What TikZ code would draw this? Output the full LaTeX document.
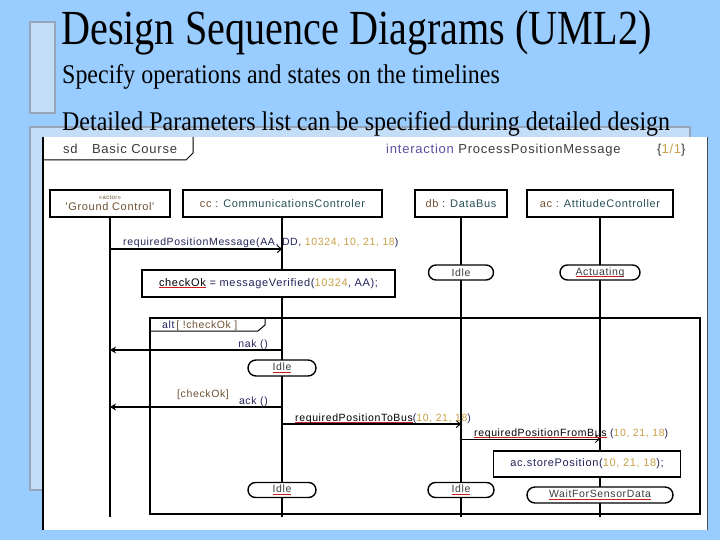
\documentclass[tikz,border=0pt]{standalone}
\usepackage{fontspec}
\setmainfont{Liberation Serif}
\setsansfont{Liberation Sans}
\newfontfamily\diagfont[LetterSpace=6]{Liberation Sans}
\usepackage{graphicx}
\usetikzlibrary{arrows.meta,shapes.misc}
\definecolor{bg}{RGB}{153,204,255}
\definecolor{frm}{RGB}{196,222,247}
\definecolor{frmedge}{RGB}{150,165,185}
\definecolor{opc}{RGB}{35,35,90}
\definecolor{numc}{RGB}{200,160,70}
\definecolor{instc}{RGB}{110,80,50}
\definecolor{clsc}{RGB}{40,80,85}
\definecolor{kwc}{RGB}{90,80,160}
\definecolor{txtc}{RGB}{60,60,60}
\definecolor{ulred}{RGB}{200,30,30}
\newsavebox\ulbox
\newcommand\rul[1]{\sbox\ulbox{#1}\rlap{\textcolor{ulred}{\rule[-2pt]{\wd\ulbox}{0.9pt}}}\usebox\ulbox}
\newcommand\nm[1]{\textcolor{numc}{#1}}
\newcommand\op[1]{\textcolor{opc}{#1}}
\tikzset{
  head/.style={draw, line width=1.5pt, fill=white, minimum height=27pt, inner sep=0pt, align=center, font=\diagfont\fontsize{11}{12}\selectfont},
  life/.style={line width=1.6pt},
  state/.style={rounded rectangle, draw, line width=1.4pt, fill=white, inner sep=0pt, minimum height=15pt, text=txtc},
  action/.style={draw, line width=1.6pt, fill=white, inner sep=0pt, font=\diagfont\fontsize{11}{12}\selectfont},
  msg/.style={line width=1.8pt, -{Straight Barb[length=4pt,width=7pt,line width=1pt]}},
  thinmsg/.style={line width=0.9pt, -{Straight Barb[length=4pt,width=7pt,line width=0.9pt]}},
  reply/.style={line width=1.8pt, -{Stealth[length=6pt,width=7pt]}},
  lbl/.style={inner sep=0pt, anchor=base west},
  lble/.style={inner sep=0pt, anchor=base east},
  hdr/.style={lbl, text=txtc, font=\diagfont\fontsize{13}{14}\selectfont},
}
\begin{document}
\begin{tikzpicture}[x=1pt,y=-1pt, font=\diagfont\fontsize{10.5}{12}\selectfont]
\useasboundingbox (0,0) rectangle (720,540);
\fill[bg] (0,0) rectangle (720,540);
% decorative slide frames
\draw[frmedge, fill=frm, line width=1.2pt] (30,22) rectangle (55,113);
\draw[frmedge, fill=frm, line width=1.2pt] (30,127) rectangle (690,490);
% headings
\node[lbl, font=\rmfamily\fontsize{49}{52}\selectfont] (title) at (61,45) {\scalebox{0.82}[1]{Design Sequence Diagrams (UML2)}};
\node[lbl, font=\rmfamily\fontsize{27}{30}\selectfont] (sub1) at (62,84) {\scalebox{0.887}[1]{Specify operations and states on the timelines}};
\node[lbl, font=\rmfamily\fontsize{27}{30}\selectfont] (sub2) at (62,131) {\scalebox{0.887}[1]{Detailed Parameters list can be specified during detailed design}};
% diagram panel
\fill[white] (43,137) rectangle (707,530);
\draw[line width=1.3pt] (43,137) -- (43,530);
\draw[line width=1pt, black!70] (707,137) -- (707,530);
\draw[line width=1pt] (43,160) -- (186,160) -- (193,153) -- (193,137);
\node[hdr] (sd) at (63,154) {sd\hspace{1.1em}Basic Course};
\node[hdr] (inter) at (386,154) {\textcolor{kwc}{interaction} ProcessPositionMessage};
\node[hdr] (pg) at (657,154) {\{\nm{1/1}\}};
% lifeline heads
\node[head, minimum width=120pt] (gc) at (110,203.5) {\fontsize{6}{7}\selectfont\textcolor{instc}{«actor»}\\[-1pt]\textcolor{instc}{'Ground Control'}};
\node[head, minimum width=199pt] (cc) at (282.5,203.5) {\textcolor{instc}{cc} \textcolor{clsc}{: CommunicationsControler}};
\node[head, minimum width=92pt] (db) at (461,203.5) {\textcolor{instc}{db} \textcolor{clsc}{: DataBus}};
\node[head, minimum width=146pt] (ac) at (600,203.5) {\textcolor{instc}{ac} \textcolor{clsc}{: AttitudeController}};
% lifeline ends
\coordinate (gcE) at (110,517);
\coordinate (ccE) at (282,517);
\coordinate (dbE) at (461,517);
\coordinate (acE) at (600,517);
\draw[life] (110,217) -- (gcE);
\draw[life] (282,217) -- (ccE);
\draw[life] (461,217) -- (dbE);
\draw[life] (600,217) -- (acE);
% alt fragment
\draw[line width=1.3pt] (150,318) rectangle (700,514);
\draw[line width=1pt] (150,331) -- (258,331) -- (265,325) -- (265,318);
\node[lbl] (alt) at (162,328) {\op{alt}\,\textcolor{instc}{[ !checkOk ]}};
% actions
\node[action, minimum width=253pt, minimum height=27pt] (chk) at (268.5,283.5) {\rul{checkOk} \op{= messageVerified(}\nm{10324}\op{, AA);}};
\node[action, minimum width=187pt, minimum height=26pt] (store) at (587,464) {\op{ac.storePosition(}\nm{10, 21, 18}\op{);}};
% states
\node[state, minimum width=65pt] (dbIdle1) at (461,272.5) {Idle};
\node[state, minimum width=80pt] (acAct) at (600,272.5) {\rul{Actuating}};
\node[state, minimum width=68pt, minimum height=16pt] (ccIdle1) at (282,368) {\rul{Idle}};
\node[state, minimum width=68pt] (ccIdle2) at (282,490) {\rul{Idle}};
\node[state, minimum width=66pt] (dbIdle2) at (461,490) {\rul{Idle}};
\node[state, minimum width=146pt, minimum height=16pt] (acWait) at (600,495) {\rul{WaitForSensorData}};
% message anchor points
\coordinate (m1s) at (110,249); \coordinate (m1e) at (282,249);
\coordinate (m2s) at (282,350); \coordinate (m2e) at (110,350);
\coordinate (m3s) at (282,407); \coordinate (m3e) at (110,407);
\coordinate (m4s) at (282,424); \coordinate (m4e) at (461,424);
\coordinate (m5s) at (461,439); \coordinate (m5e) at (600,439);
% messages
\draw[msg] (m1s) -- (m1e);
\node[lbl] (l1) at (123,245) {\op{requiredPositionMessage(AA, DD, }\nm{10324, 10, 21, 18}\op{)}};
\draw[reply] (m2s) -- (m2e);
\node[lble] (l2) at (268,347) {\op{nak ()}};
\node[lbl] (guard) at (177,397) {\textcolor{instc}{[checkOk]}};
\draw[reply] (m3s) -- (m3e);
\node[lble] (l3) at (268,404) {\op{ack ()}};
\draw[msg] (m4s) -- (m4e);
\node[lbl] (l4) at (295,421) {\rul{requiredPositionToBus}\op{(}\nm{10, 21, 18}\op{)}};
\draw[thinmsg] (m5s) -- (m5e);
\node[lbl] (l5) at (474,436) {\rul{requiredPositionFromBus} \op{(}\nm{10, 21, 18}\op{)}};
\end{tikzpicture}
\end{document}
